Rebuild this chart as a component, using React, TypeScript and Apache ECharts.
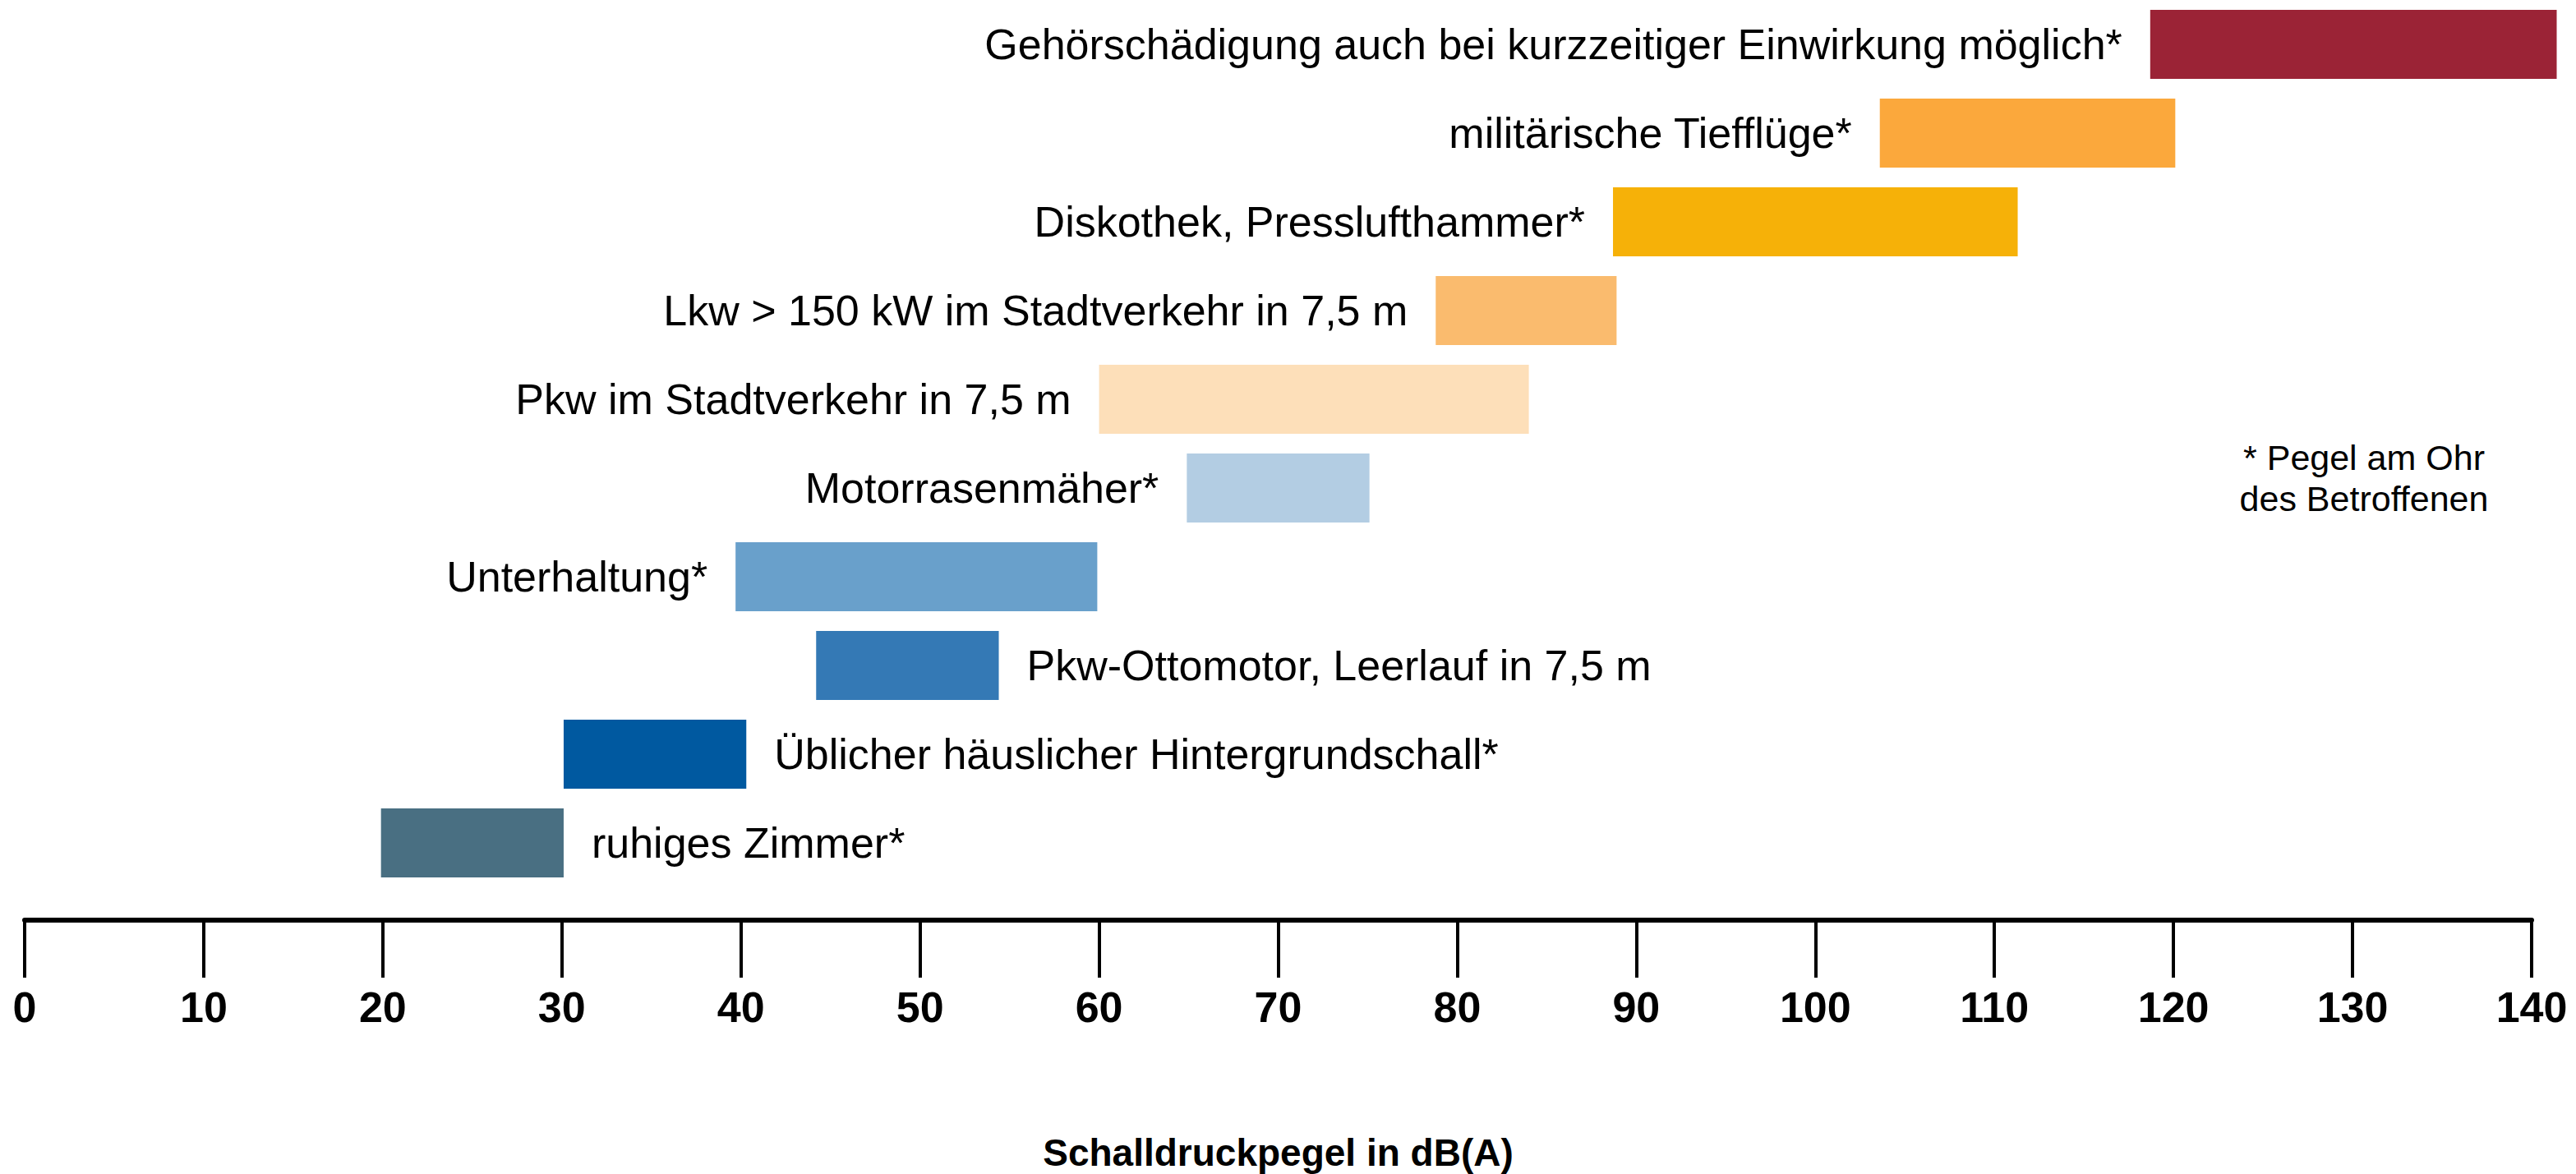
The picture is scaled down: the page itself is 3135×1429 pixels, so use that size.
import React, { useEffect, useRef } from "react";
import * as echarts from "echarts";

const categories = [
  "Gehörschädigung auch bei kurzzeitiger Einwirkung möglich*",
  "militärische Tiefflüge*",
  "Diskothek, Presslufthammer*",
  "Lkw > 150 kW im Stadtverkehr in 7,5 m",
  "Pkw im Stadtverkehr in 7,5 m",
  "Motorrasenmäher*",
  "Unterhaltung*",
  "Pkw-Ottomotor, Leerlauf in 7,5 m",
  "Üblicher häuslicher Hintergrundschall*",
  "ruhiges Zimmer*",
];
const startValues = [118.7, 103.6, 88.7, 78.8, 60.0, 64.9, 39.7, 44.2, 30.1, 19.9];
const endValues = [141.4, 120.1, 111.3, 88.9, 84.0, 75.1, 59.9, 54.4, 40.3, 30.1];
const labelOnRight = [false, false, false, false, false, false, false, true, true, true];
const barColors = [
  "#9B2336", "#FBA83C", "#F6B108", "#FABB6E", "#FDDFB9",
  "#B3CDE3", "#69A0CB", "#3479B5", "#0059A0", "#496F82",
];
const xTicks = { min: 0, max: 140, interval: 10 };
const axisTitle = "Schalldruckpegel in dB(A)";
const footnote = "* Pegel am Ohr\ndes Betroffenen";

const FONT = "'Liberation Sans', Arial, Helvetica, sans-serif";

export default function App() {
  const ref = useRef<HTMLDivElement>(null);
  useEffect(() => {
    document.body.style.margin = "0";
    if (!ref.current) return;
    const chart = echarts.init(ref.current, null, { renderer: "svg" });
    const data = categories.map((c, i) => [i, startValues[i], endValues[i]]);
    chart.setOption({
      animation: false,
      backgroundColor: "#ffffff",
      grid: {
        left: 30,
        right: 54,
        top: 0,
        height: 1080,
        containLabel: false,
        outerBoundsMode: "none",
      },
      xAxis: {
        type: "value",
        min: xTicks.min,
        max: xTicks.max,
        interval: xTicks.interval,
        position: "bottom",
        offset: 40,
        axisLine: { show: true, onZero: false, lineStyle: { color: "#000", width: 6 } },
        axisTick: { show: true, inside: false, length: 70, lineStyle: { color: "#000", width: 4 } },
        axisLabel: {
          color: "#000",
          fontSize: 52,
          fontWeight: "bold",
          fontFamily: FONT,
          margin: 80,
        },
        splitLine: { show: false },
        name: axisTitle,
        nameLocation: "middle",
        nameGap: 260,
        nameTextStyle: { color: "#000", fontSize: 46, fontWeight: "bold", fontFamily: FONT },
      },
      yAxis: {
        type: "category",
        data: categories,
        inverse: true,
        show: false,
      },
      graphic: [
        {
          type: "text",
          x: 2877,
          y: 582,
          style: {
            text: footnote,
            fontSize: 43,
            lineHeight: 50,
            fontFamily: FONT,
            fill: "#000",
            align: "center",
            verticalAlign: "middle",
          },
        },
      ],
      series: [
        {
          type: "custom",
          clip: false,
          encode: { x: [1, 2], y: 0 },
          data,
          renderItem: (params: any, api: any) => {
            const idx = api.value(0);
            const p0 = api.coord([api.value(1), idx]);
            const p1 = api.coord([api.value(2), idx]);
            const h = api.size([0, 1])[1] * 0.78;
            const right = labelOnRight[idx];
            const gap = 34;
            return {
              type: "group",
              children: [
                {
                  type: "rect",
                  shape: { x: p0[0], y: p0[1] - h / 2, width: p1[0] - p0[0], height: h },
                  style: { fill: barColors[idx] },
                },
                {
                  type: "text",
                  x: right ? p1[0] + gap : p0[0] - gap,
                  y: p0[1],
                  style: {
                    text: categories[idx],
                    fontSize: 52,
                    fontFamily: FONT,
                    fill: "#000",
                    align: right ? "left" : "right",
                    verticalAlign: "middle",
                  },
                },
              ],
            };
          },
        },
      ],
    });
    return () => chart.dispose();
  }, []);
  return <div ref={ref} style={{ width: 3135, height: 1429 }} />;
}
